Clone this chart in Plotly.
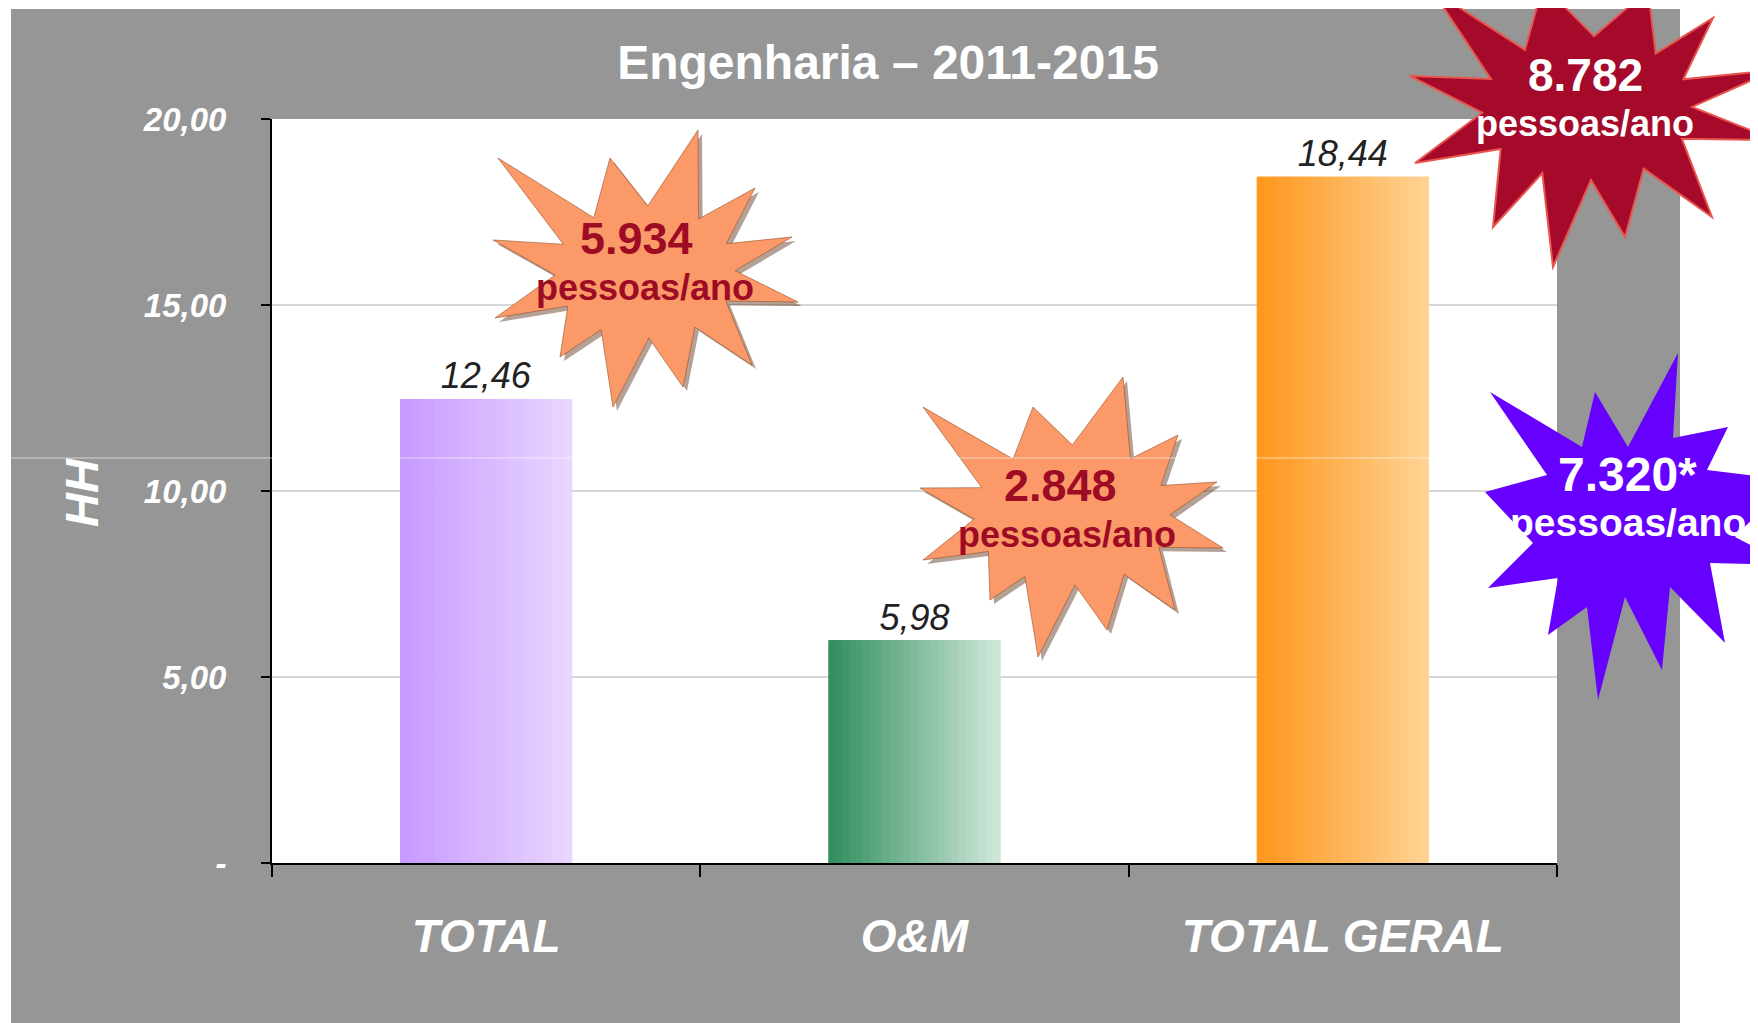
import math
import plotly.graph_objects as go

# ---------------- data ----------------
categories = ["TOTAL", "O&M", "TOTAL GERAL"]
values = [12.46, 5.98, 18.44]
bar_left_colors = ["#C699FF", "#2F8D5C", "#FF961C"]
bar_right_colors = ["#E9D7FF", "#D0E8DB", "#FFD394"]
y_tick_vals = [0, 5, 10, 15, 20]
y_tick_text = ["-", "5,00", "10,00", "15,00", "20,00"]
title_text = "Engenharia – 2011-2015"
y_title = "HH"
star_numbers = ["5.934", "2.848", "8.782", "7.320*"]
star_unit = "pessoas/ano"

# ---------------- geometry / style (page pixel coordinates) ----------------
PAGE_W, PAGE_H = 1758, 1023
OFF = 8                      # default body margin of the html page
W, H = PAGE_W - OFF, PAGE_H - OFF
PL, PR, PT, PB = 272, 1557, 119, 863
FONT = "Liberation Sans, Arial, sans-serif"
GRAY = "#969696"


def px(x, y):
    return ((x - PL) / (PR - PL), (PB - y) / (PB - PT))


def hex2rgb(h):
    h = h.lstrip("#")
    return tuple(int(h[i:i + 2], 16) for i in (0, 2, 4))


def mix(c1, c2, t):
    a, b = hex2rgb(c1), hex2rgb(c2)
    return "rgb(%d,%d,%d)" % tuple(round(a[k] + (b[k] - a[k]) * t) for k in range(3))


def poly_path(points, dx=0, dy=0):
    parts = []
    for i, (x, y) in enumerate(points):
        u, v = px(x + dx, y + dy)
        parts.append(("M" if i == 0 else "L") + "%.5f,%.5f" % (u, v))
    return " ".join(parts) + " Z"


def star_points(tips, center, rx, ry):
    cx, cy = center
    ang = sorted(((math.atan2(y - cy, x - cx), (x, y)) for x, y in tips))
    pts = []
    n = len(ang)
    for i in range(n):
        a1, p1 = ang[i]
        a2, _ = ang[(i + 1) % n]
        if a2 <= a1:
            a2 += 2 * math.pi
        am = (a1 + a2) / 2
        pts.append(p1)
        pts.append((cx + rx * math.cos(am), cy + ry * math.sin(am)))
    return pts


# ---------------- bars (horizontal gradient via slices) ----------------
N = 25
fig = go.Figure()
for i in range(N):
    t = (i + 0.5) / N
    cols = [mix(l, r, t) for l, r in zip(bar_left_colors, bar_right_colors)]
    mid = i == N // 2
    fig.add_trace(go.Bar(
        x=categories, y=values,
        marker=dict(color=cols, line=dict(width=1, color=cols)),
        texttemplate="%{y:.2f}" if mid else None,
        textposition="outside" if mid else "none",
        textfont=dict(family=FONT, size=36, color="#222222", style="italic"),
        constraintext="none", cliponaxis=False,
        showlegend=False, hoverinfo="skip",
    ))

# ---------------- shapes ----------------
shapes = []
# page margins outside gray frame
for (x0, y0, x1, y1) in [(0, 0, 11, PAGE_H), (0, 0, PAGE_W, 9), (1680, 0, PAGE_W + 10, PAGE_H)]:
    a0, b0 = px(x0, y0)
    a1, b1 = px(x1, y1)
    shapes.append(dict(type="rect", xref="paper", yref="paper", x0=a0, y0=b0, x1=a1, y1=b1,
                       fillcolor="white", line=dict(width=0), layer="below"))

star1 = star_points([(498, 158), (610, 158), (698, 130), (755, 188), (792, 237), (798, 302),
                     (752, 365), (683, 387), (613, 407), (560, 357), (495, 318), (493, 240)],
                    (645, 272), 90, 66)
star2 = star_points([(923, 407), (1033, 407), (1123, 377), (1178, 435), (1217, 482), (1223, 548),
                     (1175, 610), (1107, 630), (1038, 657), (990, 600), (923, 560), (920, 488)],
                    (1072, 515), 98, 70)
star3 = star_points([(1410, 76), (1432, -10), (1543, -15), (1648, -10), (1713, 18), (1775, 70),
                     (1775, 140), (1712, 217), (1625, 237), (1553, 267), (1493, 227), (1415, 163)],
                    (1587, 108), 105, 72)
star4 = [(1490, 392), (1582, 447), (1595, 392), (1628, 447), (1678, 353), (1673, 438), (1728, 427),
         (1707, 470), (1790, 480), (1735, 537), (1790, 565), (1710, 563), (1725, 643), (1670, 587),
         (1662, 670), (1625, 597), (1598, 700), (1587, 607), (1548, 635), (1558, 578), (1488, 588),
         (1533, 543), (1485, 492), (1547, 475)]

for st in (star1, star2):
    shapes.append(dict(type="path", xref="paper", yref="paper", path=poly_path(st, 4, 4),
                       fillcolor="rgba(90,45,20,0.45)", line=dict(width=0), layer="above"))
    shapes.append(dict(type="path", xref="paper", yref="paper", path=poly_path(st),
                       fillcolor="#FB9A68", line=dict(color="rgba(150,80,40,0.6)", width=1), layer="above"))
shapes.append(dict(type="path", xref="paper", yref="paper", path=poly_path(star3),
                   fillcolor="#A50A2A", line=dict(color="#E8564E", width=2), layer="above"))
# faint horizontal scan artifact
a0, b0 = px(0, 458)
a1, _ = px(PAGE_W, 458)
shapes.append(dict(type="line", xref="paper", yref="paper", x0=a0, x1=a1, y0=b0, y1=b0,
                   line=dict(color="rgba(255,255,255,0.6)", width=1), layer="above"))
shapes.append(dict(type="path", xref="paper", yref="paper", path=poly_path(star4),
                   fillcolor="#6600FF", line=dict(width=0), layer="above"))

# ---------------- annotations ----------------
ann = []


def add_text(text, x, y, size, color, angle=0, italic=False):
    u, v = px(x, y)
    ann.append(dict(text=text, x=u, y=v, xref="paper", yref="paper", showarrow=False,
                    xanchor="center", yanchor="middle", textangle=angle,
                    font=dict(family=FONT, size=size, color=color, weight="bold",
                              style="italic" if italic else "normal")))


add_text(y_title, 81, 493, 47, "white", angle=-90, italic=True)
DARKRED = "#9E0B25"
add_text(star_numbers[0], 636, 239, 45, DARKRED)
add_text(star_unit, 645, 287, 36, DARKRED)
add_text(star_numbers[1], 1060, 485, 45, DARKRED)
add_text(star_unit, 1067, 534, 36, DARKRED)
add_text(star_numbers[2], 1585, 75, 46, "white")
add_text(star_unit, 1585, 123, 36, "white")
add_text(star_numbers[3], 1627, 474, 48, "white")
add_text(star_unit, 1628, 522, 39, "white")

# ---------------- layout ----------------
fig.update_layout(
    width=W, height=H, autosize=False,
    margin=dict(l=PL - OFF, r=PAGE_W - PR, t=PT - OFF, b=PAGE_H - PB, pad=0),
    paper_bgcolor=GRAY, plot_bgcolor="white",
    separators=",.",
    barmode="group", bargap=0.6, bargroupgap=0,
    title=dict(text=title_text, x=(888 - OFF) / W, y=1 - (62 - OFF) / H,
               xref="container", yref="container", xanchor="center", yanchor="middle",
               font=dict(family=FONT, size=48, color="white", weight="bold")),
    xaxis=dict(type="category", range=[-0.5, 2.5], showline=True, linecolor="black", linewidth=2,
               ticks="outside", tickson="boundaries", ticklen=12, tickwidth=1.5, tickcolor="black",
               ticklabelstandoff=32, showgrid=False,
               tickfont=dict(family=FONT, size=46, color="white", weight="bold", style="italic")),
    yaxis=dict(range=[0, 20], tickvals=y_tick_vals, ticktext=y_tick_text,
               showline=True, linecolor="black", linewidth=2,
               ticks="outside", ticklen=9, tickwidth=1.5, tickcolor="black",
               ticklabelstandoff=28, showgrid=True, gridcolor="#D6D6D6", gridwidth=1.5,
               zeroline=False,
               tickfont=dict(family=FONT, size=33, color="white", weight="bold", style="italic")),
    shapes=shapes, annotations=ann,
)

fig.write_html("out.html")
